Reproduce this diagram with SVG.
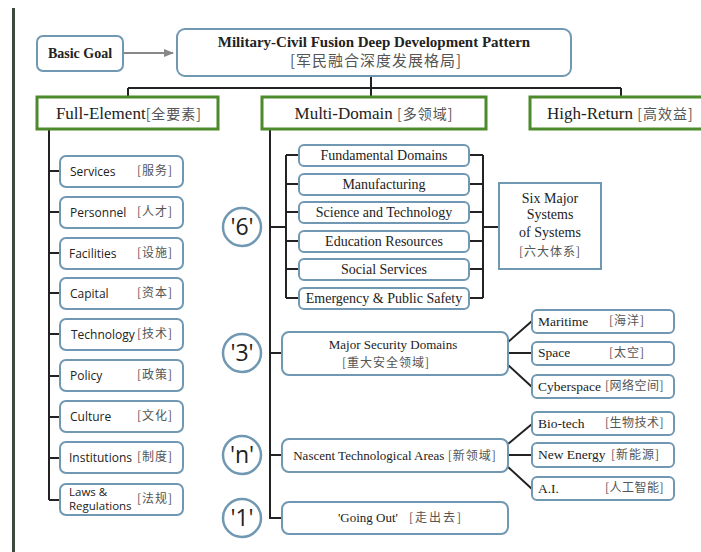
<svg xmlns="http://www.w3.org/2000/svg" width="701" height="552" viewBox="0 0 701 552">
<style>
.bx{fill:#fff;stroke:#7198b3;stroke-width:2}
.gb{fill:#fff;stroke:#4d8a2c;stroke-width:3}
.ln{fill:none;stroke:#222;stroke-width:2}
.sf{font-family:"Liberation Serif","DejaVu Serif",serif;fill:#222}
.ss{font-family:"Open Sans","Liberation Sans",sans-serif;fill:#222}
.cj{font-family:"Noto Sans CJK SC",sans-serif;fill:#555}
.ci{fill:#fff;stroke:#7198b3;stroke-width:2.5}
.cn{font-family:"Open Sans","Liberation Sans",sans-serif;font-size:23px;fill:#222;text-anchor:middle}
.li{font-size:12px}
.mi{font-size:14px;text-anchor:middle}
.ri{font-size:13.5px}
</style>
<defs>
<marker id="ah" markerWidth="10" markerHeight="8" refX="9" refY="4" orient="auto" markerUnits="userSpaceOnUse">
<path d="M0,0 L10,4 L0,8 Z" fill="#888"/>
</marker>
</defs>
<rect x="12" y="8" width="3" height="544" fill="#3d4a3d"/>

<g id="connectors">
<line x1="123" y1="53" x2="173" y2="53" stroke="#888" stroke-width="2" marker-end="url(#ah)"/>
<path class="ln" d="M371,76 V88 M128,88 H621 M128,88 V97 M371,88 V97 M621,88 V97"/>
<path class="ln" d="M49,129 V500 M49,171 H60 M49,212 H60 M49,253 H60 M49,293 H60 M49,334 H60 M49,376 H60 M49,417 H60 M49,458 H60 M49,500 H60"/>
<path class="ln" d="M270,129 V518 H282 M270,227 H286 M286,155 V298 M286,155 H299 M286,184 H299 M286,212 H299 M286,241 H299 M286,269 H299 M286,298 H299"/>
<path class="ln" d="M469,155 H483 M469,184 H483 M469,212 H483 M469,241 H483 M469,269 H483 M469,298 H483 M483,155 V298 M483,227 H499"/>
<path class="ln" d="M270,353 H282 M270,455 H282"/>
<path class="ln" d="M508,342 L532,321 M508,353 H532 M508,365 L532,387"/>
<path class="ln" d="M508,444 L532,424 M508,455 H532 M508,467 L532,489"/>
</g>

<g id="basic-goal">
<rect class="bx" x="37" y="36" width="86" height="35" rx="6"/>
<text class="sf" x="80" y="58" font-size="14" font-weight="bold" text-anchor="middle">Basic Goal</text>
</g>
<g id="main">
<rect class="bx" x="177" y="29" width="394" height="47" rx="8"/>
<text class="sf" x="374" y="47" font-size="15" font-weight="bold" text-anchor="middle">Military-Civil Fusion Deep Development Pattern</text>
<text class="cj" x="376" y="66" font-size="15" text-anchor="middle" letter-spacing="1">[军民融合深度发展格局]</text>
</g>

<g id="full-element">
<rect class="gb" x="37" y="97" width="181" height="32"/>
<text x="129" y="119" text-anchor="middle"><tspan class="sf" font-size="17">Full-Element</tspan><tspan class="cj" font-size="14" letter-spacing="1">[全要素]</tspan></text>
</g>
<g id="multi-domain">
<rect class="gb" x="262" y="97" width="224" height="32"/>
<text x="374" y="119" text-anchor="middle"><tspan class="sf" font-size="17">Multi-Domain </tspan><tspan class="cj" font-size="14" letter-spacing="1">[多领域]</tspan></text>
</g>
<g id="high-return">
<rect class="gb" x="530" y="97" width="180" height="32"/>
<text x="547" y="119"><tspan class="sf" font-size="17">High-Return </tspan><tspan class="cj" font-size="14" letter-spacing="1">[高效益]</tspan></text>
</g>

<g id="services"><rect class="bx" x="60" y="156" width="123" height="31" rx="6"/><text class="ss li" x="70" y="176">Services</text><text class="cj li" x="137" y="175" letter-spacing="1">[服务]</text></g>
<g id="personnel"><rect class="bx" x="60" y="197" width="123" height="31" rx="6"/><text class="ss li" x="70" y="217">Personnel</text><text class="cj li" x="137" y="216" letter-spacing="1">[人才]</text></g>
<g id="facilities"><rect class="bx" x="60" y="238" width="123" height="31" rx="6"/><text class="ss li" x="69" y="258">Facilities</text><text class="cj li" x="137" y="257" letter-spacing="1">[设施]</text></g>
<g id="capital"><rect class="bx" x="60" y="278" width="123" height="31" rx="6"/><text class="ss li" x="70" y="298">Capital</text><text class="cj li" x="137" y="297" letter-spacing="1">[资本]</text></g>
<g id="technology"><rect class="bx" x="60" y="319" width="123" height="31" rx="6"/><text class="ss li" x="71" y="339">Technology</text><text class="cj li" x="137" y="338" letter-spacing="1">[技术]</text></g>
<g id="policy"><rect class="bx" x="60" y="360" width="123" height="31" rx="6"/><text class="ss li" x="70" y="380">Policy</text><text class="cj li" x="137" y="379" letter-spacing="1">[政策]</text></g>
<g id="culture"><rect class="bx" x="60" y="401" width="123" height="31" rx="6"/><text class="ss li" x="70" y="421">Culture</text><text class="cj li" x="137" y="420" letter-spacing="1">[文化]</text></g>
<g id="institutions"><rect class="bx" x="60" y="442" width="123" height="31" rx="6"/><text class="ss li" x="69" y="462">Institutions</text><text class="cj li" x="137" y="461" letter-spacing="1">[制度]</text></g>
<g id="laws"><rect class="bx" x="60" y="484" width="123" height="31" rx="6"/><text class="ss" font-size="11.5" x="69" y="496">Laws &amp;</text><text class="ss" font-size="11.5" x="69" y="510">Regulations</text><text class="cj li" x="137" y="503" letter-spacing="1">[法规]</text></g>

<g id="c6"><circle class="ci" cx="242" cy="227" r="19"/><text class="cn" x="242" y="235">'6'</text></g>
<g id="c3"><circle class="ci" cx="242" cy="353" r="19"/><text class="cn" x="242" y="361">'3'</text></g>
<g id="cn"><circle class="ci" cx="242" cy="455" r="19"/><text class="cn" x="242" y="463">'n'</text></g>
<g id="c1"><circle class="ci" cx="242" cy="518" r="19"/><text class="cn" x="242" y="526">'1'</text></g>

<g id="fundamental"><rect class="bx" x="299" y="145" width="170" height="21" rx="5"/><text class="sf mi" x="384" y="160">Fundamental Domains</text></g>
<g id="manufacturing"><rect class="bx" x="299" y="174" width="170" height="21" rx="5"/><text class="sf mi" x="384" y="189">Manufacturing</text></g>
<g id="science"><rect class="bx" x="299" y="202" width="170" height="21" rx="5"/><text class="sf mi" x="384" y="217">Science and Technology</text></g>
<g id="education"><rect class="bx" x="299" y="231" width="170" height="21" rx="5"/><text class="sf mi" x="384" y="246">Education Resources</text></g>
<g id="social"><rect class="bx" x="299" y="259" width="170" height="21" rx="5"/><text class="sf mi" x="384" y="274">Social Services</text></g>
<g id="emergency"><rect class="bx" x="299" y="288" width="170" height="21" rx="5"/><text class="sf mi" x="384" y="303">Emergency &amp; Public Safety</text></g>

<g id="six-major">
<rect class="bx" x="499" y="183" width="102" height="86"/>
<text class="sf" x="550" y="203" font-size="14" text-anchor="middle">Six Major</text>
<text class="sf" x="550" y="219" font-size="14" text-anchor="middle">Systems</text>
<text class="sf" x="550" y="237" font-size="14" text-anchor="middle">of Systems</text>
<text class="cj" x="550" y="256" font-size="12" text-anchor="middle" letter-spacing="1">[六大体系]</text>
</g>

<g id="major-security">
<rect class="bx" x="282" y="332" width="226" height="43" rx="7"/>
<text class="sf" x="393" y="349" font-size="13" text-anchor="middle">Major Security Domains</text>
<text class="cj" x="386" y="367" font-size="12" text-anchor="middle" letter-spacing="1">[重大安全领域]</text>
</g>
<g id="nascent">
<rect class="bx" x="282" y="439" width="226" height="33" rx="7"/>
<text x="395" y="460" text-anchor="middle"><tspan class="sf" font-size="13">Nascent Technological Areas </tspan><tspan class="cj" font-size="12" letter-spacing="1">[新领域]</tspan></text>
</g>
<g id="going-out">
<rect class="bx" x="282" y="502" width="226" height="32" rx="7"/>
<text class="sf" x="338" y="522" font-size="13">'Going Out'</text>
<text class="cj" x="409" y="522" font-size="12" letter-spacing="2">[走出去]</text>
</g>

<g id="maritime"><rect class="bx" x="532" y="310" width="142" height="23" rx="5"/><text class="sf ri" x="538" y="326">Maritime</text><text class="cj li" x="609" y="325" letter-spacing="1">[海洋]</text></g>
<g id="space"><rect class="bx" x="532" y="342" width="142" height="23" rx="5"/><text class="sf ri" x="538" y="357">Space</text><text class="cj li" x="609" y="357" letter-spacing="1">[太空]</text></g>
<g id="cyberspace"><rect class="bx" x="532" y="375" width="142" height="23" rx="5"/><text class="sf ri" x="538" y="391">Cyberspace</text><text class="cj li" x="605" y="390" letter-spacing="0.5">[网络空间]</text></g>
<g id="biotech"><rect class="bx" x="532" y="412" width="142" height="23" rx="5"/><text class="sf ri" x="538" y="428">Bio-tech</text><text class="cj li" x="605" y="427" letter-spacing="0.5">[生物技术]</text></g>
<g id="new-energy"><rect class="bx" x="532" y="443" width="142" height="24" rx="5"/><text class="sf ri" x="538" y="459">New Energy</text><text class="cj li" x="611" y="459" letter-spacing="1">[新能源]</text></g>
<g id="ai"><rect class="bx" x="532" y="477" width="142" height="23" rx="5"/><text class="sf ri" x="538" y="493">A.I.</text><text class="cj li" x="605" y="492" letter-spacing="0.5">[人工智能]</text></g>
</svg>
